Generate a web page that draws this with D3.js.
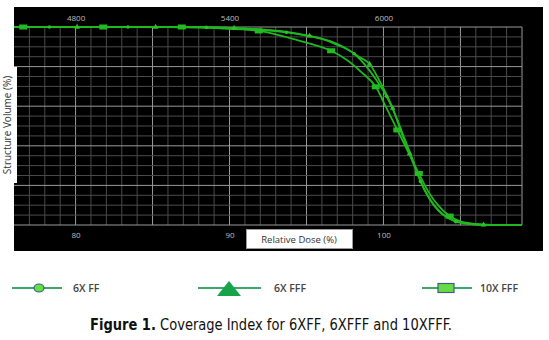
<!DOCTYPE html>
<html>
<head>
<meta charset="utf-8">
<script src="https://cdn.jsdelivr.net/npm/d3@7"></script>
<style>
  body { margin: 0; background: #fff; }
  svg { display: block; }
</style>
</head>
<body>
<svg id="chart" width="549" height="340"></svg>
<script>
// relative dose (%) vs structure volume (%)
var ff6Line = [[76,100],[86,100],[88,99.9],[90,99.5],[92,98.6],[93.7,97.3],[95,95.7],[96,94],[97,91],[98.1,86.5],[99,79],[99.6,72.5],[100.2,65],[100.8,55],[101.4,43],[101.9,33],[102.4,22],[103,13],[103.6,7],[104.2,3.5],[104.7,1.7],[105.5,0.6],[106.5,0.1],[109,0]];
var fff6Line = [[76,100],[86,100],[88,99.9],[90,99.6],[92,98.8],[93.5,97.8],[95.2,95.5],[96.5,93],[97.5,89.5],[98.4,85],[99.1,81.3],[99.8,72],[100.6,59],[101.2,46],[101.7,36],[102.2,26],[102.8,16],[103.4,9],[104,4.5],[104.7,2],[105.5,0.7],[106.5,0.1],[109,0]];
var fff10Line = [[76,100],[86,100],[88,99.7],[90,99.1],[91.9,98],[93,96.3],[94.4,93.4],[95.5,91],[96.6,88],[97.6,83.5],[98.6,77],[99.5,69.8],[100.2,59],[100.9,48],[101.6,37],[102.3,26],[102.9,17],[103.6,9.5],[104.3,4.5],[105,1.8],[106,0.5],[107,0.1],[109,0]];

var ff6Marks = [[78.3,100],[83.4,100],[88.5,99.8],[93.7,97.3],[98.1,86.5],[100.2,65],[102.4,22],[104.7,1.7]];
var fff6Marks = [[80.1,100],[85.2,100],[90.3,99.5],[95.2,95.5],[99.1,81.3],[100.6,59],[101.7,36],[106.5,0.1]];
var fff10Marks = [[76.6,100],[81.8,100],[86.9,100],[91.9,98],[96.6,88],[99.5,69.8],[100.9,48],[102.3,26],[104.3,4.5]];

var doseTicks = [80, 90, 100];
var cgyTicks = [4800, 5400, 6000];
var legendNames = ["6X FF", "6X FFF", "10X FFF"];

var svg = d3.select("#chart");

var x = d3.scaleLinear().domain([76, 109]).range([14, 522]);
var xTop = d3.scaleLinear().domain([76 * 60, 109 * 60]).range([14, 522]);
var y = d3.scaleLinear().domain([0, 100]).range([225, 27]);

// black panel
svg.append("rect").attr("x", 14).attr("y", 7).attr("width", 529).attr("height", 244).attr("fill", "#000");

// grid
var g = svg.append("g");
d3.range(77, 110, 1).forEach(function(d) {
  var major = d % 5 == 0 || d == 109;
  g.append("line")
    .attr("x1", x(d)).attr("x2", x(d)).attr("y1", y(100)).attr("y2", y(0))
    .attr("stroke", major ? "#999" : "#4a4a4a").attr("stroke-width", 1);
});
d3.range(0, 101, 5).forEach(function(d) {
  var major = d % 20 == 0;
  g.append("line")
    .attr("x1", x(76)).attr("x2", x(109)).attr("y1", y(d)).attr("y2", y(d))
    .attr("stroke", major ? "#999" : "#4a4a4a").attr("stroke-width", 1);
});

// axes labels (bottom % and top cGy)
var bottomAxis = svg.append("g").attr("transform", "translate(0,229)")
  .call(d3.axisBottom(x).tickValues(doseTicks).tickSize(0).tickFormat(d3.format("d")));
var topAxis = svg.append("g").attr("transform", "translate(0,24)")
  .call(d3.axisTop(xTop).tickValues(cgyTicks).tickSize(0).tickFormat(d3.format("d")));
[bottomAxis, topAxis].forEach(function(a) {
  a.select(".domain").remove();
  a.selectAll("text").attr("fill", "#bdbdbd").style("font-family", "'Open Sans', sans-serif").style("font-size", "8px");
});

// curves
var line = d3.line().x(function(d) { return x(d[0]); }).y(function(d) { return y(d[1]); }).curve(d3.curveMonotoneX);
var green = "#1fb81f";
[ff6Line, fff6Line, fff10Line].forEach(function(s) {
  svg.append("path").datum(s).attr("d", line)
    .attr("fill", "none").attr("stroke", green).attr("stroke-width", 1.8);
});

svg.selectAll(".dot").data(ff6Marks).enter().append("circle")
  .attr("cx", function(d) { return x(d[0]); }).attr("cy", function(d) { return y(d[1]); })
  .attr("r", 1.8).attr("fill", "#28c428");
svg.selectAll(".tri").data(fff6Marks).enter().append("path")
  .attr("transform", function(d) { return "translate(" + x(d[0]) + "," + y(d[1]) + ")"; })
  .attr("d", d3.symbol().type(d3.symbolTriangle).size(14))
  .attr("fill", "#28c428");
svg.selectAll(".sq").data(fff10Marks).enter().append("rect")
  .attr("x", function(d) { return x(d[0]) - 4; }).attr("y", function(d) { return y(d[1]) - 2.5; })
  .attr("width", 8).attr("height", 5).attr("fill", "#22bb22");

// axis title boxes
svg.append("rect").attr("x", 246.5).attr("y", 229.5).attr("width", 106).attr("height", 19)
  .attr("fill", "#fff").attr("stroke", "#9a9a9a");
svg.append("text").attr("x", 299).attr("y", 243).attr("text-anchor", "middle")
  .style("font-family", "'Open Sans', sans-serif").style("font-size", "9.5px").attr("fill", "#333")
  .text("Relative Dose (%)");
svg.append("rect").attr("x", 0).attr("y", 67).attr("width", 17).attr("height", 116).attr("fill", "#fff");
svg.append("text").attr("transform", "translate(11,125) rotate(-90)").attr("text-anchor", "middle")
  .style("font-family", "'Open Sans', sans-serif").style("font-size", "10px").attr("fill", "#333")
  .text("Structure Volume (%)");

// legend
var legY = 288;
var legLine = "#3aaa6a";
var leg = [
  { x1: 12, x2: 62, mx: 39, tx: 73 },
  { x1: 198, x2: 261, mx: 229, tx: 274 },
  { x1: 422, x2: 472, mx: 446, tx: 480 }
];
leg.forEach(function(l, i) {
  svg.append("line").attr("x1", l.x1).attr("x2", l.x2).attr("y1", legY).attr("y2", legY)
    .attr("stroke", legLine).attr("stroke-width", 2);
  svg.append("text").attr("x", l.tx).attr("y", legY + 4)
    .style("font-family", "'Open Sans', sans-serif").style("font-size", "10.5px").style("font-weight", "600")
    .attr("fill", "#444").text(legendNames[i]);
});
svg.append("ellipse").attr("cx", leg[0].mx).attr("cy", legY).attr("rx", 5).attr("ry", 4)
  .attr("fill", "#66dd44").attr("stroke", "#3d5f86").attr("stroke-width", 1.2);
svg.append("path").attr("d", "M" + (leg[1].mx - 12) + "," + (legY + 8) + "L" + leg[1].mx + "," + (legY - 7) + "L" + (leg[1].mx + 12) + "," + (legY + 8) + "Z")
  .attr("fill", "#17a34a");
svg.append("rect").attr("x", leg[2].mx - 8).attr("y", legY - 4.5).attr("width", 16).attr("height", 9)
  .attr("fill", "#66dd44").attr("stroke", "#3d5f86").attr("stroke-width", 1.2);

// caption
var cap = svg.append("text").attr("x", 90).attr("y", 330)
  .style("font-family", "'Liberation Sans Narrow', 'DejaVu Sans Condensed', sans-serif").style("font-size", "15px")
  .attr("fill", "#111").attr("textLength", 362).attr("lengthAdjust", "spacingAndGlyphs");
cap.append("tspan").style("font-weight", "bold").text("Figure 1.");
cap.append("tspan").text(" Coverage Index for 6XFF, 6XFFF and 10XFFF.");
</script>
</body>
</html>
